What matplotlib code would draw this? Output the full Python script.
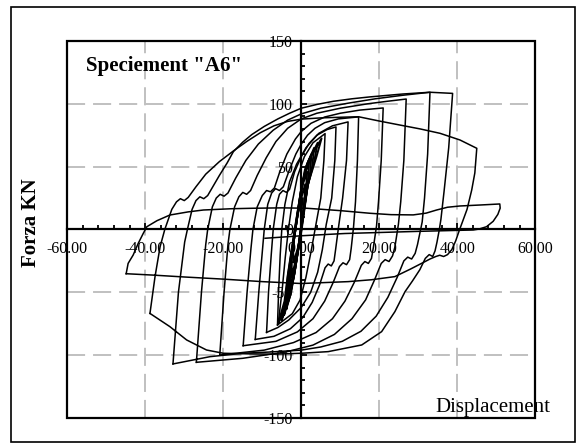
import matplotlib
matplotlib.use("Agg")
import matplotlib.pyplot as plt
from matplotlib.patches import Rectangle
from matplotlib.ticker import MultipleLocator, FormatStrFormatter

# displacement (mm) / force (kN) of each loading cycle, in test order
# small cycles around the origin (thin, nearly elastic)
d_s1 = [-2.0, -2.1, -1.5, -0.9, 0.4, 0.5, -0.1, -0.7, -2.0]
f_s1 = [-26, -13, 0, 12.5, 25, 12.5, 0, -13, -26]
d_s2 = [-2.5, -2.4, -1.5, -0.65, 1.0, 0.75, -0.1, -1.0, -2.5]
f_s2 = [-38, -19, 0, 18, 36, 18, 0, -19, -38]
d_s3 = [-3.0, -2.6, -1.5, -0.4, 0.4, 1.5, 1.3, 1.0, -0.1, -1.2, -3.0]
f_s3 = [-48, -24, 0, 23, 36, 46, 36, 23, 0, -24, -48]
d_s4 = [-3.4, -2.8, -1.5, -0.2, 0.7, 2.0, 1.8, 1.2, -0.1, -1.4, -2.4, -3.4]
f_s4 = [-57, -28.5, 0, 27, 42, 54, 42, 27, 0, -28.5, -45, -57]
d_s5 = [-3.8, -3.2, -3.0, -1.5, -0.1, 0.9, 2.6, 2.3, 1.4, -0.1, -1.6, -2.6, -3.8]
f_s5 = [-63, -48, -31.5, 0, 30, 47, 60, 46, 30, 0, -31.5, -50, -63]
d_s6 = [-4.4, -3.6, -3.2, -1.6, 0.0, 1.2, 3.3, 2.8, 1.5, 0.0, -1.7, -2.9, -4.4]
f_s6 = [-68, -52, -34, 0, 32.5, 50, 65, 50, 32.5, 0, -34, -53, -68]
d_s7 = [-5.0, -4.0, -3.4, -1.6, 0.1, 1.6, 4.2, 3.3, 1.6, 0.0, -1.8, -3.2, -5.0]
f_s7 = [-72, -55, -36, 0, 34.5, 53, 69, 54, 34.5, 0, -36, -56, -72]
d_s8 = [-5.9, -4.3, -3.5, -1.7, 0.2, 1.9, 5.2, 3.9, 1.7, 0.1, -1.9, -3.5, -5.9]
f_s8 = [-74.6, -57, -37, 0, 36, 55, 72.5, 58, 36, 0, -37, -58, -74.6]

# +-6 mm
d_c06 = [-5.9, -4.9, -4.1, -3.3, -2.3, -1.0, 0.8, 3.0, 6.1,
         5.8, 5.0, 3.7, 2.6, 1.2, -0.3, -2.3, -6.1]
f_c06 = [-74.6, -48, -22, 0, 22, 42, 58, 69, 76.3,
         55, 25, 3, -16, -38, -56, -67, -76]
# +-9 mm
d_c09 = [-6.1, -5.8, -5.4, -5.0, -4.2, -3.0, -1.2, 1.2, 4.0, 6.6, 8.9,
         8.6, 7.8, 6.4, 5.4, 4.2, 2.4, 0.0, -3.2, -6.0, -8.9]
f_c09 = [-76, -48, -20, 0, 20, 38, 52, 65, 75, 79.5, 81.6,
         55, 25, 4, -16, -34, -50, -62, -72, -78, -81.9]
# +-12 mm
d_c12 = [-8.9, -8.4, -7.7, -7.2, -6.3, -5.6, -4.7, -3.8, -3.0, -1.7, 0.0, 2.0, 4.5, 8.0, 12.0,
         11.6, 10.6, 9.6, 8.8, 8.4, 7.7, 6.9, 6.1, 4.7, 2.8, 0.4, -2.8, -7.0, -11.8]
f_c12 = [-81.9, -50, -20, 0, 20, 28, 31, 29.5, 32, 46, 58, 68.5, 76.5, 82.5, 85.6,
         55, 25, 3, -16, -25, -29, -27.5, -30.5, -44, -58, -70, -79, -85, -87.5]
# +-15 mm
d_c15 = [-11.8, -10.9, -10.0, -9.5, -8.6, -7.6, -6.6, -5.6, -4.6, -3.1, -1.4, 0.0, 1.6, 3.5, 6.0, 9.5, 14.7,
         14.4, 13.9, 13.4, 12.8, 12.4, 11.6, 10.7, 9.8, 8.2, 6.0, 3.0, -1.0, -6.5, -14.9]
f_c15 = [-87.5, -50, -18, 0, 20, 29, 32.5, 31, 34, 47, 60, 68, 75, 80.5, 85, 88, 89.6,
         55, 22, 2, -15, -24, -28, -26.5, -29.5, -42, -57, -71, -81.5, -89, -92.5]
# +-21 mm
d_c21 = [-14.9, -13.9, -12.9, -12.4, -11.3, -10.0, -8.9, -7.9, -6.9, -5.5, -3.7, -1.5, 0.0, 2.5, 6.0, 10.0, 15.0, 21.0,
         20.5, 19.8, 19.3, 18.5, 18.0, 17.2, 16.3, 15.4, 13.6, 11.2, 8.0, 3.8, -2.0, -9.5, -20.9]
f_c21 = [-92.5, -50, -15, 0, 18, 27, 31, 30, 33, 46, 60, 72, 78, 84.5, 89.5, 92.5, 95, 96.7,
         55, 22, 3, -14, -23, -27, -25.5, -28.5, -42, -57, -71, -82, -90, -96, -99.9]
# +-27 mm
d_c27 = [-20.9, -19.8, -18.8, -18.3, -17.1, -16.0, -15.0, -14.0, -13.0, -11.3, -9.0, -6.5, -3.5, 0.0, 4.0, 10.0, 17.0, 22.0, 26.9,
         26.3, 25.5, 24.9, 24.0, 23.4, 22.5, 21.5, 20.5, 18.8, 16.5, 13.0, 8.5, 3.0, -4.0, -15.0, -26.9]
f_c27 = [-99.9, -50, -12, 0, 18, 26, 29.5, 28, 31, 43, 57, 70, 80.5, 88, 92.5, 96.5, 100, 102, 103.8,
         55, 22, 4, -14, -21, -25.5, -24, -27, -40, -56, -71, -83.5, -92, -97.5, -102.5, -105.7]
# +-33 mm
d_c33 = [-26.9, -25.6, -24.5, -24.0, -22.8, -21.8, -20.8, -19.8, -18.8, -16.8, -14.2, -11.0, -7.2, -3.5, 0.0, 5.0, 12.0, 19.0, 26.0, 33.0,
         32.4, 31.6, 31.0, 30.6, 29.8, 29.2, 28.3, 27.3, 26.3, 24.6, 22.2, 19.2, 15.3, 10.5, 5.0, 0.0, -8.0, -15.0, -23.4, -32.9]
f_c33 = [-105.7, -50, -12, 0, 18, 25, 28, 26.5, 29, 41, 55, 68, 79, 87, 92, 96.5, 100.5, 104, 106.8, 109.2,
         60, 25, 6, 0, -12, -19, -23.5, -22, -25, -38, -54, -69, -81, -89, -93.5, -96, -97.5, -98.5, -101.2, -107]
# +-39 mm, strength drops on the negative side
d_c39 = [-32.9, -31.5, -29.9, -29.2, -28.0, -27.0, -26.0, -25.0, -24.0, -22.5, -21.0, -19.0, -17.4, -15.0, -12.7, -9.5,
         -6.0, -3.0, 0.0, 4.0, 8.2, 13.0, 17.6, 26.0, 33.0, 38.8,
         37.8, 36.6, 35.8, 35.4, 34.8, 34.3, 33.7, 32.8, 31.8, 30.4, 28.5, 26.6, 24.0, 20.6, 15.5, 6.9, 0.0, -7.0,
         -13.2, -20.0, -24.3, -29.4, -33.7, -38.8]
f_c39 = [-107, -50, -10, 0, 16, 23, 26, 24.5, 27, 35, 43, 53, 62, 69.5, 75.5, 82,
         88, 92.5, 96.5, 99.5, 102, 104, 105.5, 107.8, 109.2, 108.3,
         65, 30, 8, 0, -10, -17, -21.5, -20, -23, -32, -41, -49.5, -65.4, -81.3, -91.9, -97.2, -98.5, -99.2,
         -99, -98.5, -95.9, -87.9, -77.3, -66.8]
# +-45 mm
d_c45 = [-38.8, -37.5, -36.2, -35.0, -33.2, -32.0, -31.0, -30.0, -29.0, -27.0, -24.5, -21.0, -17.4, -14.0, -10.5,
         -7.0, -3.5, 0.0, 5.0, 10.0, 14.7, 20.0, 25.3, 30.5, 35.6, 40.7, 45.0,
         44.5, 43.7, 42.5, 41.2, 40.6, 39.6, 38.6, 37.5, 36.5, 35.5, 34.5, 33.0, 31.7, 28.0, 24.0, 18.0, 12.0,
         0.0, -10.0, -20.0, -30.0, -38.0, -44.9]
f_c45 = [-66.8, -37.5, -13.7, 0, 16, 22, 24.5, 23, 25.5, 34, 44, 54, 62.5, 70, 77,
         82.5, 86, 87.8, 88.8, 89.3, 89.7, 86.3, 83.1, 80, 76.5, 71.2, 64.6,
         45, 31.4, 16, 5, 0, -9, -16, -20, -21.5, -20.5, -21.5, -23.5, -25.6, -31.5, -37.5, -40, -41.5,
         -43, -41.5, -39.5, -37.8, -36.3, -35.2]
# last push to +51 mm and return
d_c51 = [-44.9, -44.4, -43.1, -41.8, -40.5, -39.6, -37.0, -33.7, -29.0, -25.1, -18.0, -12.3, -5.0, 1.4, 10.0,
         17.6, 23.0, 28.7, 32.0, 34.7, 37.5, 40.7, 46.0, 50.9,
         51.0, 50.4, 49.2, 47.5, 45.5, 44.1, 30.0, 11.2, 0.0, -9.3]
f_c51 = [-35.2, -27, -20.3, -11, -3, 2.2, 7, 11.5, 14, 15.5, 16.5, 16.9, 17.2, 16.9, 15,
         12.9, 11.8, 11.6, 13, 15.5, 17.7, 18.7, 19.5, 20.3,
         17, 12, 6.5, 2.2, 0.3, -0.4, -1.5, -3.2, -5, -7]

small = [(d_s1, f_s1), (d_s2, f_s2), (d_s3, f_s3), (d_s4, f_s4), (d_s5, f_s5),
         (d_s6, f_s6), (d_s7, f_s7), (d_s8, f_s8)]
cycles = [(d_c06, f_c06), (d_c09, f_c09), (d_c12, f_c12), (d_c15, f_c15),
          (d_c21, f_c21), (d_c27, f_c27), (d_c33, f_c33), (d_c39, f_c39),
          (d_c45, f_c45), (d_c51, f_c51)]

plt.rcParams['font.family'] = ['Liberation Serif', 'DejaVu Serif']

fig = plt.figure(figsize=(5.8, 4.44), dpi=100)
ax = fig.add_axes([0.1160, 0.0586, 0.8069, 0.8491])

# dashed grid
for gx in [-40, -20, 20, 40]:
    ax.axvline(gx, color='#c0c0c0', lw=1.4, dashes=(9.3, 4.1), zorder=0)
for gy in [-100, -50, 50, 100]:
    ax.axhline(gy, color='#c0c0c0', lw=1.4, dashes=(9.3, 4.1), zorder=0)

for d, f in small:
    ax.plot(d, f, color='black', lw=1.4, zorder=2)
for d, f in cycles:
    ax.plot(d, f, color='black', lw=1.1, zorder=2)

ax.set_xlim(-60, 60)
ax.set_ylim(-150, 150)

# axes crossing at the origin, box around the plot
ax.spines['left'].set_position(('data', 0))
ax.spines['bottom'].set_position(('data', 0))
ax.spines['top'].set_visible(False)
ax.spines['right'].set_visible(False)
for s in ['left', 'bottom']:
    ax.spines[s].set_linewidth(1.6)
    ax.spines[s].set_zorder(3)
ax.add_patch(Rectangle((0, 0), 1, 1, transform=ax.transAxes, fill=False,
                       lw=1.6, edgecolor='black', zorder=4, clip_on=False))

ax.xaxis.set_major_locator(MultipleLocator(20))
ax.xaxis.set_minor_locator(MultipleLocator(4))
ax.yaxis.set_major_locator(MultipleLocator(50))
ax.yaxis.set_minor_locator(MultipleLocator(10))
ax.xaxis.set_major_formatter(FormatStrFormatter('%.2f'))
ax.yaxis.set_major_formatter(FormatStrFormatter('%d'))
ax.tick_params(which='both', direction='in', width=1.3, labelsize=11.5, colors='black')
ax.tick_params(which='major', length=4)
ax.tick_params(which='minor', length=3)
ax.tick_params(axis='x', pad=8)
ax.tick_params(axis='y', pad=6)

fig.text(86 / 580, 1 - 71.5 / 444, 'Speciement "A6"', fontsize=15, fontweight='bold',
         va='baseline', ha='left')
fig.text(31 / 580, 1 - 223 / 444, 'Forza KN', fontsize=15, fontweight='bold',
         rotation=90, ha='center', va='center')
fig.text(435 / 580, 1 - 412 / 444, 'Displacement', fontsize=15, va='baseline', ha='left')

# outer frame of the figure
fig.patches.append(Rectangle((11 / 580, 1 - 442 / 444), 564 / 580, 435 / 444,
                             transform=fig.transFigure, fill=False, lw=1.2,
                             edgecolor='black'))

fig.savefig('out.png', dpi=100)
